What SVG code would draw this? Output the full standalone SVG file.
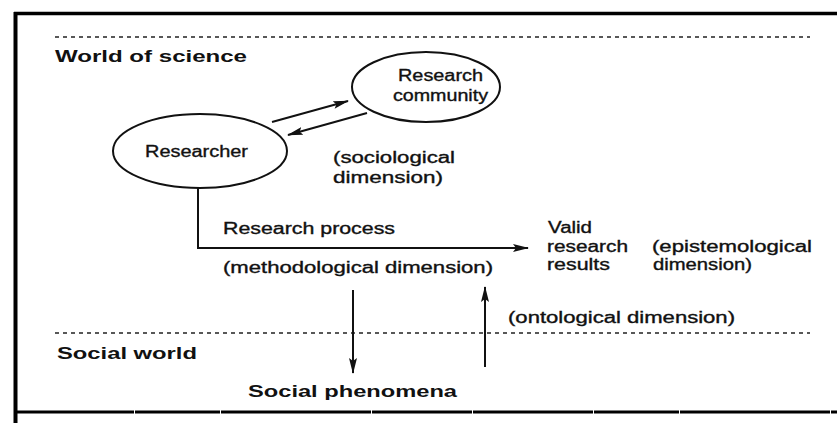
<svg xmlns="http://www.w3.org/2000/svg" width="837" height="423" viewBox="0 0 837 423">
<style>
text{font-family:"Liberation Sans",Arial,sans-serif;fill:#111;}
.r{font-size:16px;stroke:#111;stroke-width:0.35;}
.b{font-size:17px;font-weight:bold;}
.ln{stroke:#111;stroke-width:2;fill:none;}
.el{stroke:#111;stroke-width:2;fill:#fff;}
.dot{stroke:#222;stroke-width:1.6;stroke-dasharray:4 4;fill:none;}
.bord{stroke:#000;fill:none;}
</style>
<defs>
<marker id="ah" markerUnits="userSpaceOnUse" markerWidth="16" markerHeight="8" refX="15" refY="4" orient="auto">
<path d="M0,0 L16,4 L0,8 L3,4 z" fill="#111"/>
</marker>
</defs>
<rect width="837" height="423" fill="#fff"/>
<g id="frame">
<line class="bord" x1="14" y1="13.5" x2="837" y2="13.5" stroke-width="3.5"/>
<line class="bord" x1="15.5" y1="12" x2="15.5" y2="423" stroke-width="4"/>
<line class="bord" x1="14" y1="412" x2="837" y2="412" stroke-width="3" stroke-dasharray="120 1 85 1 150 1 100 1"/>
<line class="dot" x1="55" y1="37" x2="810" y2="37"/>
<line class="dot" x1="55" y1="333" x2="810" y2="333"/>
</g>
<g id="label-world-of-science"><text class="b" x="55" y="62" textLength="192" lengthAdjust="spacingAndGlyphs">World of science</text></g>
<g id="label-social-world"><text class="b" x="57" y="359" textLength="140" lengthAdjust="spacingAndGlyphs">Social world</text></g>
<g id="node-community">
<ellipse class="el" cx="426" cy="87" rx="74" ry="35"/>
<text class="r" x="398" y="81" textLength="85" lengthAdjust="spacingAndGlyphs">Research</text>
<text class="r" x="393" y="101" textLength="95" lengthAdjust="spacingAndGlyphs">community</text>
</g>
<g id="node-researcher">
<ellipse class="el" cx="200" cy="151" rx="87" ry="37"/>
<text class="r" x="145" y="157" textLength="103" lengthAdjust="spacingAndGlyphs">Researcher</text>
</g>
<g id="label-sociological">
<text class="r" x="333" y="163" textLength="122" lengthAdjust="spacingAndGlyphs">(sociological</text>
<text class="r" x="333" y="183" textLength="110" lengthAdjust="spacingAndGlyphs">dimension)</text>
</g>
<g id="label-process">
<text class="r" x="223" y="234" textLength="172" lengthAdjust="spacingAndGlyphs">Research process</text>
<text class="r" x="223" y="273" textLength="270" lengthAdjust="spacingAndGlyphs">(methodological dimension)</text>
</g>
<g id="node-results">
<text class="r" x="548" y="233" textLength="44" lengthAdjust="spacingAndGlyphs">Valid</text>
<text class="r" x="547" y="252" textLength="81" lengthAdjust="spacingAndGlyphs">research</text>
<text class="r" x="547" y="270" textLength="63" lengthAdjust="spacingAndGlyphs">results</text>
</g>
<g id="label-epistemological">
<text class="r" x="652" y="252" textLength="160" lengthAdjust="spacingAndGlyphs">(epistemological</text>
<text class="r" x="653" y="270" textLength="99" lengthAdjust="spacingAndGlyphs">dimension)</text>
</g>
<g id="label-ontological">
<text class="r" x="508" y="323" textLength="227" lengthAdjust="spacingAndGlyphs">(ontological dimension)</text>
</g>
<g id="node-phenomena">
<text class="b" x="248" y="397" textLength="209" lengthAdjust="spacingAndGlyphs">Social phenomena</text>
</g>
<g id="connectors">
<line class="ln" x1="272" y1="122" x2="348" y2="101" marker-end="url(#ah)"/>
<line class="ln" x1="367" y1="113" x2="288" y2="135" marker-end="url(#ah)"/>
<polyline class="ln" points="198,188 198,248 528,248" marker-end="url(#ah)"/>
<line class="ln" x1="353" y1="290" x2="353" y2="373" marker-end="url(#ah)"/>
<line class="ln" x1="485" y1="367" x2="485" y2="287" marker-end="url(#ah)"/>
</g>
</svg>
